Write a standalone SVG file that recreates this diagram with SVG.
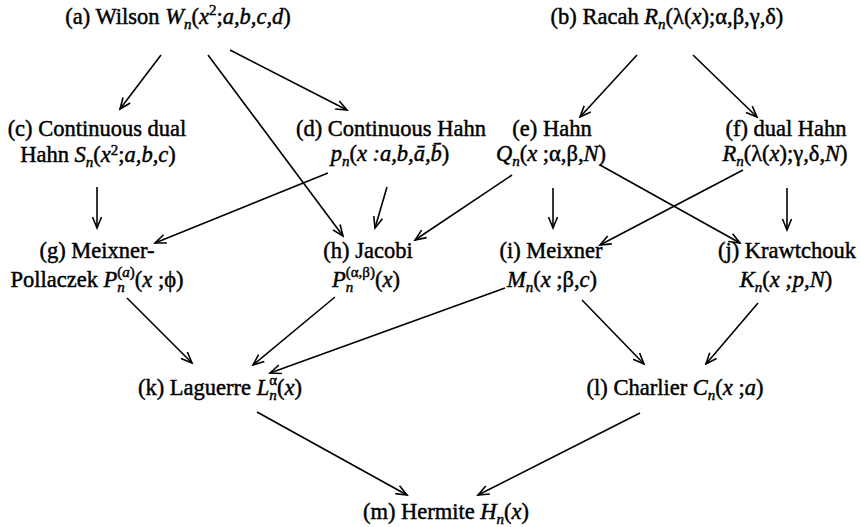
<svg xmlns="http://www.w3.org/2000/svg" width="861" height="527" viewBox="0 0 861 527">
<style>
text { font-family: "Liberation Serif", "Times New Roman", serif; font-size: 22.5px; fill: #000; stroke: #000; stroke-width: 0.45; text-anchor: middle; }
.i { font-style: italic; }
.s { font-size: 15px; }
.c line { stroke: #000; stroke-width: 1.6; fill: none; marker-end: url(#ah); }
</style>
<defs>
<marker id="ah" viewBox="-13 -7 15 14" refX="0" refY="0" markerWidth="15" markerHeight="14" orient="auto" markerUnits="userSpaceOnUse">
<path d="M-11,-4.5 L0,0 L-11,4.5" fill="none" stroke="#000" stroke-width="1.6"/>
</marker>
</defs>
<rect width="861" height="527" fill="#fff"/>
<g class="c" id="connectors">
<line x1="161" y1="55" x2="120" y2="109"/>
<line x1="230" y1="50" x2="347" y2="110"/>
<line x1="208" y1="55" x2="343" y2="236"/>
<line x1="637" y1="55" x2="580" y2="117"/>
<line x1="693" y1="55" x2="757" y2="117"/>
<line x1="97" y1="187" x2="97" y2="228"/>
<line x1="328" y1="173" x2="155" y2="243"/>
<line x1="387" y1="187" x2="375" y2="228"/>
<line x1="512" y1="175" x2="415" y2="240"/>
<line x1="553" y1="188" x2="553" y2="228"/>
<line x1="600" y1="165" x2="740" y2="243"/>
<line x1="743" y1="170" x2="600" y2="245"/>
<line x1="787" y1="188" x2="787" y2="230"/>
<line x1="127" y1="298" x2="192" y2="363"/>
<line x1="335" y1="297" x2="253" y2="365"/>
<line x1="505" y1="288" x2="270" y2="373"/>
<line x1="582" y1="300" x2="644" y2="364"/>
<line x1="758" y1="303" x2="706" y2="364"/>
<line x1="257" y1="412" x2="407" y2="495"/>
<line x1="640" y1="413" x2="478" y2="495"/>
</g>
<g id="a"><text x="178" y="24">(a) Wilson <tspan class="i">W</tspan><tspan class="i s" dy="5">n</tspan><tspan dy="-5">(</tspan><tspan class="i">x</tspan><tspan class="s" dy="-9">2</tspan><tspan dy="9">;</tspan><tspan class="i">a,b,c,d</tspan>)</text></g>
<g id="b"><text x="667" y="24">(b) Racah <tspan class="i">R</tspan><tspan class="i s" dy="5">n</tspan><tspan dy="-5">(λ(</tspan><tspan class="i">x</tspan>);α,β,γ,δ)</text></g>
<g id="c"><text x="97" y="136">(c) Continuous dual</text><text x="98" y="162">Hahn <tspan class="i">S</tspan><tspan class="i s" dy="5">n</tspan><tspan dy="-5">(</tspan><tspan class="i">x</tspan><tspan class="s" dy="-7">2</tspan><tspan dy="7">;</tspan><tspan class="i">a,b,c</tspan>)</text></g>
<g id="d"><text x="391" y="136">(d) Continuous Hahn</text><text x="390" y="161"><tspan class="i">p</tspan><tspan class="i s" dy="5">n</tspan><tspan dy="-5">(</tspan><tspan class="i">x :a,b,ā,b̄</tspan>)</text></g>
<g id="e"><text x="552" y="136">(e) Hahn</text><text x="551" y="161"><tspan class="i">Q</tspan><tspan class="i s" dy="5">n</tspan><tspan dy="-5">(</tspan><tspan class="i">x</tspan> ;α,β,<tspan class="i">N</tspan>)</text></g>
<g id="f"><text x="786" y="136">(f) dual Hahn</text><text x="785" y="161"><tspan class="i">R</tspan><tspan class="i s" dy="5">n</tspan><tspan dy="-5">(λ(</tspan><tspan class="i">x</tspan>);γ,δ,<tspan class="i">N</tspan>)</text></g>
<g id="g"><text x="97" y="258">(g) Meixner-</text><text x="97" y="287">Pollaczek <tspan class="i">P</tspan><tspan class="i s" dy="5">n</tspan><tspan class="s" dx="-7.5" dy="-15">(<tspan class="i">a</tspan>)</tspan><tspan dy="10">(</tspan><tspan class="i">x</tspan> ;ϕ)</text></g>
<g id="h"><text x="368" y="258">(h) Jacobi</text><text x="366" y="287"><tspan class="i">P</tspan><tspan class="i s" dy="5">n</tspan><tspan class="s" dx="-7.5" dy="-15">(α,β)</tspan><tspan dy="10">(</tspan><tspan class="i">x</tspan>)</text></g>
<g id="i"><text x="551" y="258">(i) Meixner</text><text x="552" y="287"><tspan class="i">M</tspan><tspan class="i s" dy="5">n</tspan><tspan dy="-5">(</tspan><tspan class="i">x</tspan> ;β,<tspan class="i">c</tspan>)</text></g>
<g id="j"><text x="787" y="258">(j) Krawtchouk</text><text x="786" y="287"><tspan class="i">K</tspan><tspan class="i s" dy="5">n</tspan><tspan dy="-5">(</tspan><tspan class="i">x ;p,N</tspan>)</text></g>
<g id="k"><text x="220" y="395">(k) Laguerre <tspan class="i">L</tspan><tspan class="i s" dy="5">n</tspan><tspan class="s" dx="-7.5" dy="-15">α</tspan><tspan dy="10">(</tspan><tspan class="i">x</tspan>)</text></g>
<g id="l"><text x="675" y="395">(l) Charlier <tspan class="i">C</tspan><tspan class="i s" dy="5">n</tspan><tspan dy="-5">(</tspan><tspan class="i">x</tspan> ;<tspan class="i">a</tspan>)</text></g>
<g id="m"><text x="446" y="519">(m) Hermite <tspan class="i">H</tspan><tspan class="i s" dy="5">n</tspan><tspan dy="-5">(</tspan><tspan class="i">x</tspan>)</text></g>
</svg>
